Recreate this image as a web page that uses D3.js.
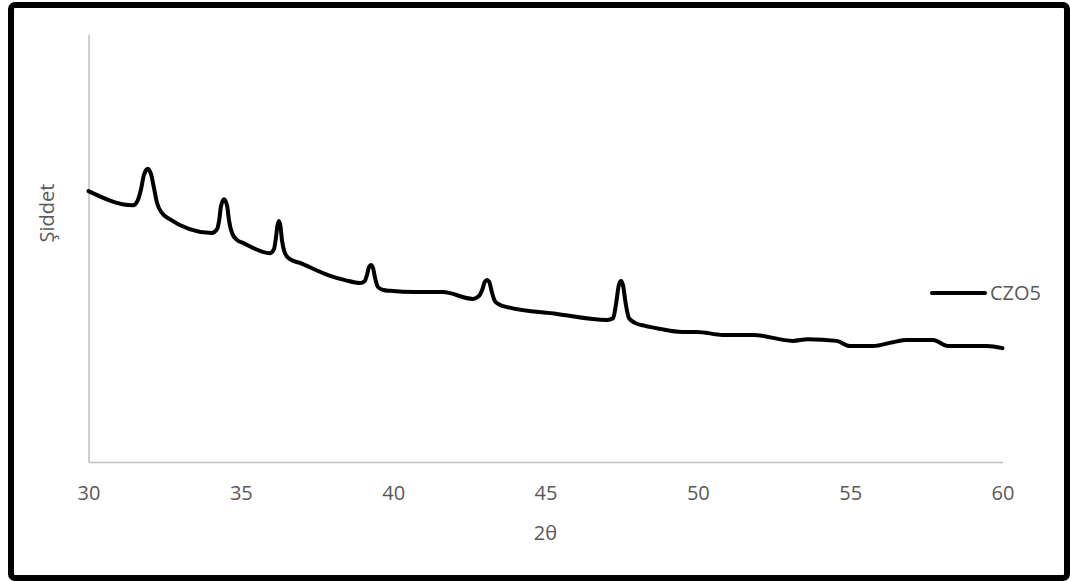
<!DOCTYPE html>
<html>
<head>
<meta charset="utf-8">
<script src="https://cdn.jsdelivr.net/npm/d3@7"></script>
<style>
  body { margin: 0; background: #fff; }
  svg { display: block; font-family: "Open Sans", "Noto Sans", sans-serif; }
</style>
</head>
<body>
<div id="chart"></div>
<script>
// XRD scan, CZO5 sample
var twoTheta = [30.0, 31.46, 31.62, 31.72, 31.82, 31.95, 32.05, 32.15, 32.25, 32.41, 32.61,
  34.05, 34.22, 34.29, 34.35, 34.45, 34.55, 34.61, 34.71, 34.87, 35.07,
  35.96, 36.09, 36.15, 36.20, 36.25, 36.30, 36.35, 36.45, 36.61, 36.94,
  37.93, 38.42, 38.91, 39.07, 39.14, 39.21, 39.27, 39.34, 39.40, 39.50, 39.67, 39.90,
  40.72, 41.63, 42.62, 42.82, 42.92, 43.01, 43.08, 43.15, 43.24, 43.34, 43.51, 43.74,
  45.38, 47.02, 47.22, 47.31, 47.41, 47.48, 47.54, 47.64, 47.74, 47.94, 48.27,
  48.76, 49.48, 49.97, 50.82, 51.81, 53.12, 53.61, 54.56, 54.99, 55.75,
  56.40, 56.86, 57.72, 58.21, 59.49, 60.0]

var intensity = [633, 600, 612, 636, 671, 685, 673, 640, 605, 582, 570,
  535, 544, 565, 598, 614, 598, 565, 535, 519, 512,
  488, 498, 523, 551, 563, 551, 519, 488, 474, 465,
  435, 425, 418, 423, 437, 456, 460, 453, 432, 409, 402, 400,
  397, 397, 381, 388, 402, 421, 425, 421, 397, 376, 367, 362,
  346, 332, 336, 367, 414, 423, 414, 367, 336, 325, 318,
  311, 304, 304, 297, 297, 283, 287, 283, 271, 271,
  280, 285, 285, 271, 271, 266]

var xTicks = [30, 35, 40, 45, 50, 55, 60]
var seriesName = 'CZO5'
var xTitle = '2θ'
var yTitle = 'Şiddet'

var width = 1070,
    height = 581,
    plotLeft = 88.5,
    plotRight = 1002.5,
    plotTop = 34,
    plotBottom = 462

var svg = d3.select('#chart')
  .append('svg')
  .attr('width', width)
  .attr('height', height)

// outer frame
svg.append('rect')
  .attr('x', 11)
  .attr('y', 5)
  .attr('width', 1056)
  .attr('height', 573)
  .attr('rx', 4)
  .attr('fill', 'none')
  .attr('stroke', '#000')
  .attr('stroke-width', 6)

var x = d3.scaleLinear()
  .domain([30, 60])
  .range([plotLeft, plotRight])

var y = d3.scaleLinear()
  .domain([0, 1000])
  .range([plotBottom, plotTop])

var xAxis = svg.append('g')
  .attr('transform', 'translate(0,' + plotBottom + ')')
  .call(d3.axisBottom(x).tickValues(xTicks).tickSize(0).tickSizeOuter(0))

xAxis.select('.domain').attr('stroke', '#bfbfbf').attr('stroke-width', 1.5)
xAxis.selectAll('text')
  .attr('y', 31)
  .attr('dy', '0.35em')
  .attr('fill', '#595959')
  .style('font-size', '20px')
  .style('font-family', '"Open Sans", sans-serif')

var yAxis = svg.append('g')
  .attr('transform', 'translate(' + plotLeft + ',0)')
  .call(d3.axisLeft(y).tickValues([]).tickSizeOuter(0))

yAxis.select('.domain').attr('stroke', '#bfbfbf').attr('stroke-width', 1.5)

svg.append('text')
  .attr('x', (plotLeft + plotRight) / 2)
  .attr('y', 533)
  .attr('dy', '0.35em')
  .attr('text-anchor', 'middle')
  .attr('fill', '#595959')
  .style('font-size', '20px')
  .text(xTitle)

svg.append('text')
  .attr('transform', 'translate(47,213) rotate(-90)')
  .attr('dy', '0.35em')
  .attr('text-anchor', 'middle')
  .attr('fill', '#595959')
  .style('font-size', '20px')
  .text(yTitle)

var points = twoTheta.map(function(t, i) {
  return { t: t, v: intensity[i] }
})

var line = d3.line()
  .x(function(d) { return x(d.t) })
  .y(function(d) { return y(d.v) })
  .curve(d3.curveMonotoneX)

svg.append('path')
  .datum(points)
  .attr('d', line)
  .attr('fill', 'none')
  .attr('stroke', '#000')
  .attr('stroke-width', 4)
  .attr('stroke-linejoin', 'round')
  .attr('stroke-linecap', 'round')

// legend
var legend = svg.append('g')
  .attr('transform', 'translate(932,293)')

legend.append('line')
  .attr('x1', 0)
  .attr('x2', 53)
  .attr('stroke', '#000')
  .attr('stroke-width', 4)
  .attr('stroke-linecap', 'round')

legend.append('text')
  .attr('x', 58)
  .attr('dy', '0.35em')
  .attr('fill', '#595959')
  .style('font-size', '20px')
  .text(seriesName)
</script>
</body>
</html>
